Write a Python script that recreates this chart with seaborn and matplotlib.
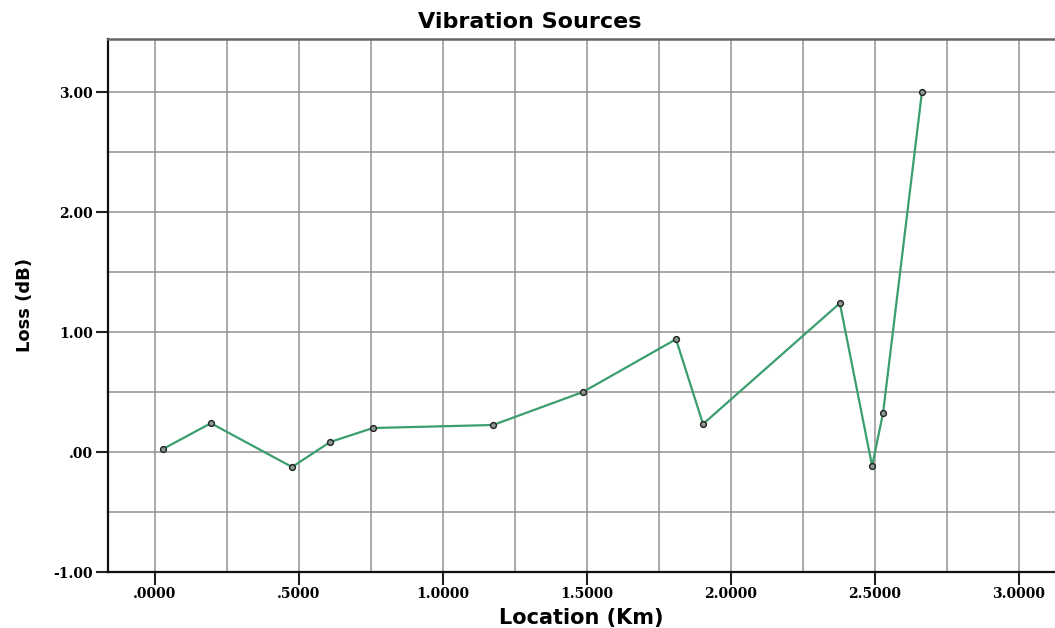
import pandas as pd
import seaborn as sns
import matplotlib.pyplot as plt
from matplotlib.ticker import MultipleLocator, FuncFormatter

location_km = [0.028, 0.194, 0.476, 0.608, 0.757, 1.174, 1.486,
               1.809, 1.903, 2.378, 2.490, 2.528, 2.663]
loss_db = [0.025, 0.24, -0.125, 0.083, 0.20, 0.225, 0.50,
           0.94, 0.233, 1.24, -0.117, 0.325, 3.00]


def spss_fmt(decimals):
    def f(v, pos):
        s = f"{v:.{decimals}f}"
        if s.startswith("0."):
            s = s[1:]
        elif s.startswith("-0."):
            s = "-" + s[2:]
        return s
    return FuncFormatter(f)


def main():
    df = pd.DataFrame({'location': location_km, 'loss': loss_db})

    sns.set_style('white')
    plt.rcParams['font.serif'] = ['DejaVu Serif']
    plt.rcParams['font.weight'] = 'bold'
    plt.rcParams['text.color'] = 'black'
    plt.rcParams['axes.labelcolor'] = 'black'
    plt.rcParams['xtick.labelcolor'] = 'black'
    plt.rcParams['ytick.labelcolor'] = 'black'

    fig = plt.figure(figsize=(10.55, 6.28), dpi=100)
    ax = fig.add_axes([108 / 1055, 1 - 572 / 628, 947 / 1055, 533 / 628])

    sns.lineplot(x='location', y='loss', data=df, ax=ax, sort=False,
                 color='#3a9e6e', linewidth=1.6, marker='o', markersize=4.2,
                 markerfacecolor='#8a9a90', markeredgecolor='#222222',
                 markeredgewidth=1.0)

    ax.set_xlim(-0.163, 3.125)
    ax.set_ylim(-1.0, 3.442)

    ax.xaxis.set_major_locator(MultipleLocator(0.5))
    ax.xaxis.set_minor_locator(MultipleLocator(0.25))
    ax.yaxis.set_major_locator(MultipleLocator(1.0))
    ax.yaxis.set_minor_locator(MultipleLocator(0.5))
    ax.xaxis.set_major_formatter(spss_fmt(4))
    ax.yaxis.set_major_formatter(spss_fmt(2))

    ax.grid(True, which='both', color='#929292', linewidth=1.1)
    ax.set_axisbelow(True)

    ax.tick_params(axis='both', which='major', direction='out', length=9,
                   width=1.5, color='#222222', pad=2,
                   left=True, bottom=True, labelsize=10,
                   labelfontfamily='DejaVu Serif')
    ax.tick_params(axis='both', which='minor', length=0)

    ax.spines['right'].set_visible(False)
    ax.spines['top'].set_color('#666666')
    ax.spines['top'].set_linewidth(1.8)
    for s in ['left', 'bottom']:
        ax.spines[s].set_color('#111111')
        ax.spines[s].set_linewidth(1.6)

    ax.set_xlabel('Location (Km)', fontsize=15, fontweight='bold',
                  family='DejaVu Sans', labelpad=5)
    ax.set_ylabel('Loss (dB)', fontsize=13, fontweight='bold',
                  family='DejaVu Sans', labelpad=14)
    fig.text(0.502, 1 - 22 / 628, 'Vibration Sources', ha='center',
             va='center', fontsize=16, fontweight='bold',
             family='DejaVu Sans')

    plt.savefig('out.png', dpi=100)


if __name__ == '__main__':
    main()
